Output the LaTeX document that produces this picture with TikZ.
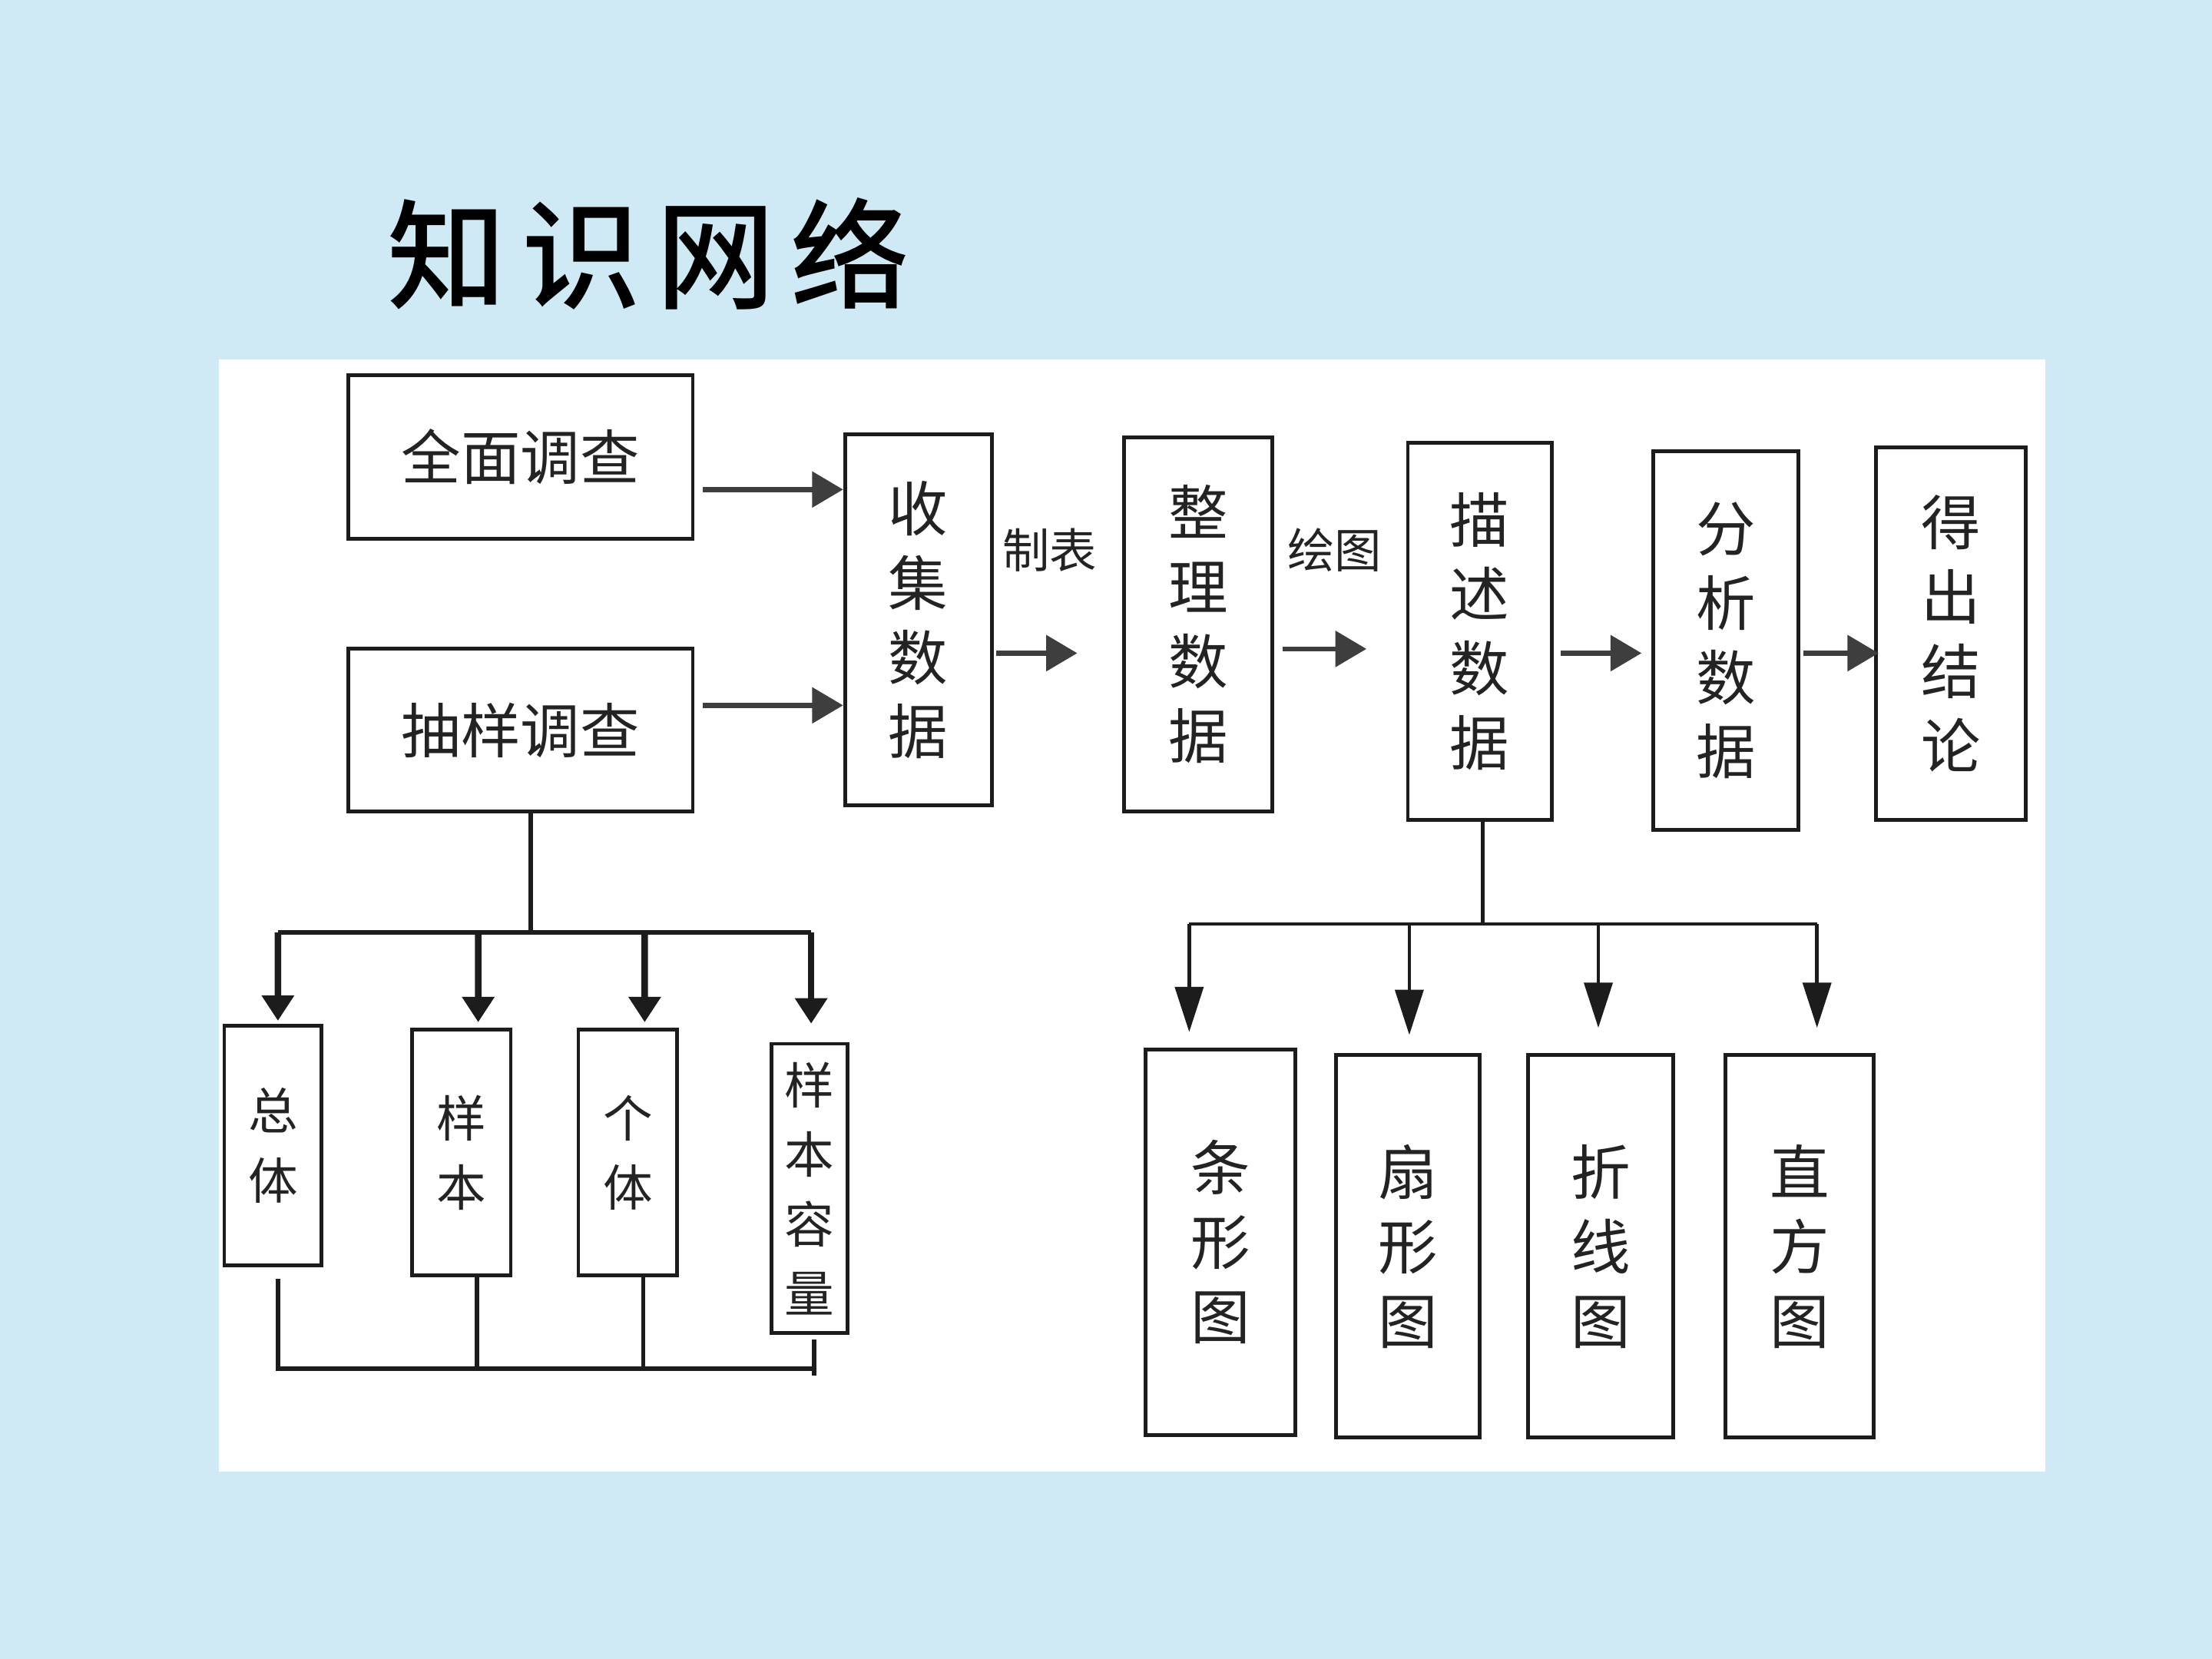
\documentclass[tikz,border=0pt]{standalone}
\usepackage{fontspec}
\newfontfamily\cjk{Noto Sans CJK SC}
\newfontfamily\cjktitle[LetterSpace=13,UprightFont={* Medium}]{Noto Sans CJK SC}
\usetikzlibrary{arrows.meta}
\definecolor{bg}{RGB}{207,233,245}
\definecolor{ink}{RGB}{28,28,28}
\definecolor{txt}{RGB}{35,35,35}
\tikzset{
  box/.style={draw=ink, line width=0.75pt, fill=white, inner sep=0pt, text=txt, align=center},
  big/.style={font=\cjk\fontsize{12pt}{15pt}\selectfont},
  small/.style={font=\cjk\fontsize{10pt}{14pt}\selectfont},
  lbl/.style={text=txt, inner sep=0pt, font=\cjk\fontsize{9.5pt}{11pt}\selectfont},
  arrmain/.style={draw=ink!85, line width=1pt, -{Triangle[length=0.22cm,width=0.25cm]}},
  arrleft/.style={draw=ink, line width=1.3pt, -{Triangle[length=0.18cm,width=0.22cm]}},
  arrright/.style={draw=ink, line width=0.7pt, -{Triangle[length=0.32cm,width=0.2cm]}},
  busleft/.style={draw=ink, line width=0.9pt},
  busright/.style={draw=ink, line width=0.7pt}
}
\begin{document}
\begin{tikzpicture}[x=0.01cm,y=-0.01cm]
\useasboundingbox (0,0) rectangle (1568,1176);
\fill[bg] (0,0) rectangle (1568,1176);
\fill[white] (155,255) rectangle (1450,1043);

% title
\node[inner sep=0pt, font=\cjktitle\fontsize{24pt}{28pt}\selectfont] (title) at (460,180) {知识网络};

% top row
\node[box, big, minimum width=2.44cm, minimum height=1.16cm] (qm) at (369,324) {全面调查};
\node[box, big, minimum width=2.44cm, minimum height=1.15cm] (cy) at (369,517.5) {抽样调查};
\node[box, big, minimum width=1.04cm, minimum height=2.63cm] (sj) at (651,439.5) {收\\集\\数\\据};
\node[box, big, minimum width=1.05cm, minimum height=2.65cm] (zl) at (849.5,442.5) {整\\理\\数\\据};
\node[box, big, minimum width=1.02cm, minimum height=2.67cm] (ms) at (1049,447.5) {描\\述\\数\\据};
\node[box, big, minimum width=1.03cm, minimum height=2.68cm] (fx) at (1223.5,454) {分\\析\\数\\据};
\node[box, big, minimum width=1.06cm, minimum height=2.64cm] (dc) at (1383,449) {得\\出\\结\\论};

\node[lbl] (zb) at (744,390) {制表};
\node[lbl] (ht) at (946,390) {绘图};

% lower left
\node[box, small, minimum width=0.69cm, minimum height=1.70cm] (zt) at (193.5,812) {总\\体};
\node[box, small, minimum width=0.70cm, minimum height=1.74cm] (yb) at (327,817) {样\\本};
\node[box, small, minimum width=0.70cm, minimum height=1.74cm] (gt) at (445,817) {个\\体};
\node[box, small, minimum width=0.54cm, minimum height=2.05cm] (rl) at (574,842.5) {样\\本\\容\\量};

% lower right
\node[box, big, minimum width=1.06cm, minimum height=2.73cm] (tx) at (865,880.5) {条\\形\\图};
\node[box, big, minimum width=1.02cm, minimum height=2.71cm] (sx) at (998,883.5) {扇\\形\\图};
\node[box, big, minimum width=1.03cm, minimum height=2.71cm] (zx) at (1134.5,883.5) {折\\线\\图};
\node[box, big, minimum width=1.05cm, minimum height=2.71cm] (zf) at (1275.5,883.5) {直\\方\\图};

% main arrows
\draw[arrmain] ([xshift=0.06cm]qm.east |- 0,347) -- (sj.west |- 0,347);
\draw[arrmain] ([xshift=0.06cm]cy.east |- 0,500) -- (sj.west |- 0,500);
\draw[arrmain] ([xshift=0.02cm]sj.east |- 0,463) -- ([xshift=-0.32cm]zl.west |- 0,463);
\draw[arrmain] ([xshift=0.06cm]zl.east |- 0,460) -- ([xshift=-0.28cm]ms.west |- 0,460);
\draw[arrmain] ([xshift=0.05cm]ms.east |- 0,463) -- ([xshift=-0.07cm]fx.west |- 0,463);
\draw[arrmain] ([xshift=0.02cm]fx.east |- 0,463) -- ([xshift=0.03cm]dc.west |- 0,463);

% lower-left tree
\draw[busleft] ([xshift=0.07cm]cy.south) -- ([xshift=0.07cm]cy.south |- 0,661) coordinate (hubL);
\draw[busleft] ([xshift=0.035cm]zt.north |- hubL) -- ([xshift=0.01cm]rl.north |- hubL);
\draw[arrleft] (hubL -| 197,0) -- ([xshift=0.035cm,yshift=0.02cm]zt.north);
\draw[arrleft] (hubL -| 339,0) -- ([xshift=0.12cm,yshift=0.04cm]yb.north);
\draw[arrleft] (hubL -| 457,0) -- ([xshift=0.12cm,yshift=0.04cm]gt.north);
\draw[arrleft] (hubL -| 575,0) -- ([xshift=0.01cm,yshift=0.13cm]rl.north);

\draw[busleft] ([xshift=0.035cm,yshift=-0.08cm]zt.south) |- ([xshift=0.03cm]rl.south |- 0,970);
\draw[busleft] ([xshift=0.03cm,yshift=-0.03cm]rl.south) -- ([xshift=0.03cm]rl.south |- 0,975);
\draw[busleft] ([xshift=0.11cm]yb.south) -- ([xshift=0.11cm]yb.south |- 0,970);
\draw[busleft] ([xshift=0.11cm]gt.south) -- ([xshift=0.11cm]gt.south |- 0,970);

% lower-right tree
\draw[busright] ([xshift=0.02cm]ms.south) -- ([xshift=0.02cm]ms.south |- 0,655) coordinate (hubR);
\draw[busright] ([xshift=-0.22cm]tx.north |- hubR) -- ([xshift=0.125cm]zf.north |- hubR);
\draw[arrright] ([xshift=-0.22cm]tx.north |- hubR) -- ([xshift=-0.22cm,yshift=0.11cm]tx.north);
\draw[arrright] ([xshift=0.01cm]sx.north |- hubR) -- ([xshift=0.01cm,yshift=0.13cm]sx.north);
\draw[arrright] ([xshift=-0.015cm]zx.north |- hubR) -- ([xshift=-0.015cm,yshift=0.18cm]zx.north);
\draw[arrright] ([xshift=0.125cm]zf.north |- hubR) -- ([xshift=0.125cm,yshift=0.18cm]zf.north);
\end{tikzpicture}
\end{document}
